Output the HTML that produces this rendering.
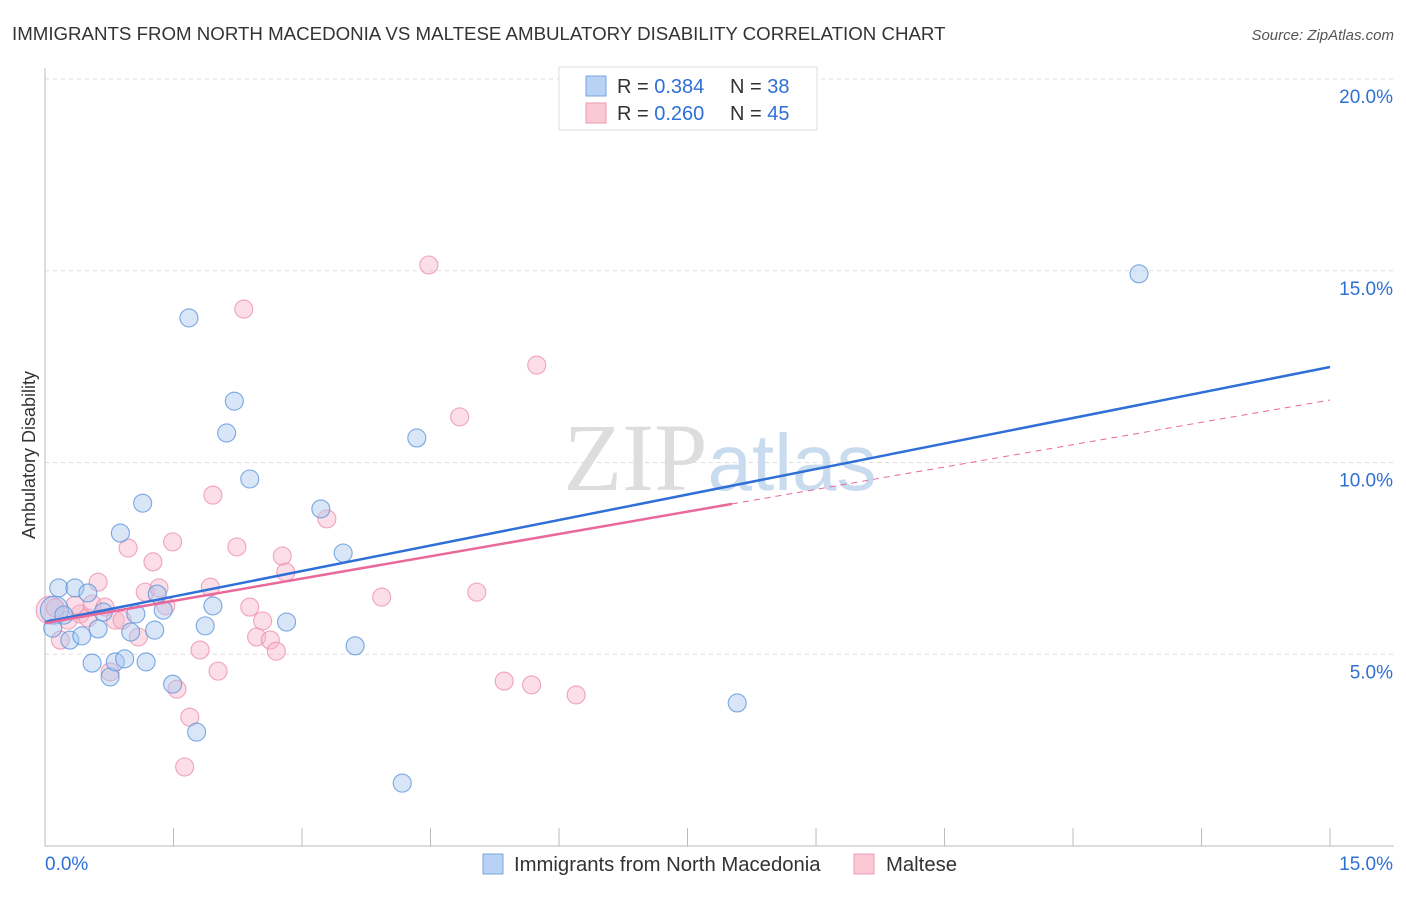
<!DOCTYPE html>
<html><head><meta charset="utf-8"><style>
body{margin:0;background:#fff;font-family:"Liberation Sans",sans-serif}
</style></head><body>
<svg width="1406" height="892" xmlns="http://www.w3.org/2000/svg" font-family="Liberation Sans, sans-serif">
<text x="12" y="40" font-size="18.7" fill="#333">IMMIGRANTS FROM NORTH MACEDONIA VS MALTESE AMBULATORY DISABILITY CORRELATION CHART</text>
<text x="1394" y="40" font-size="15" fill="#555" font-style="italic" text-anchor="end">Source: ZipAtlas.com</text>
<g id="grid"></g>
<text x="720" y="490" font-size="96" fill="#ddd" text-anchor="middle" font-family="Liberation Serif, serif">ZIP<tspan fill="#c9dbef" font-family="Liberation Sans, sans-serif" font-size="80">atlas</tspan></text>
<g id="points"></g>
<g id="lines"></g>
<text x="35" y="455" font-size="18" fill="#333" text-anchor="middle" transform="rotate(-90 35 455)">Ambulatory Disability</text>
<g>
<rect x="559" y="67" width="258" height="63" fill="#fff" stroke="#ddd"/>
<rect x="586" y="76" width="20" height="20" fill="#b7d2f5" stroke="#7aa6e0"/>
<rect x="586" y="103" width="20" height="20" fill="#fbc8d6" stroke="#ee9ab2"/>
<text x="617" y="93" font-size="20" fill="#333">R = <tspan fill="#2f6fd6">0.384</tspan></text>
<text x="730" y="93" font-size="20" fill="#333">N = <tspan fill="#2f6fd6">38</tspan></text>
<text x="617" y="120" font-size="20" fill="#333">R = <tspan fill="#2f6fd6">0.260</tspan></text>
<text x="730" y="120" font-size="20" fill="#333">N = <tspan fill="#2f6fd6">45</tspan></text>
</g>
<g>
<rect x="483" y="854" width="20" height="20" fill="#b7d2f5" stroke="#7aa6e0"/>
<text x="514" y="871" font-size="20.3" fill="#333">Immigrants from North Macedonia</text>
<rect x="854" y="854" width="20" height="20" fill="#fbc8d6" stroke="#ee9ab2"/>
<text x="886" y="871" font-size="20.3" fill="#333">Maltese</text>
</g>
</svg>
<script>
const xTicks=[0,1.5,3,4.5,6,7.5,9,10.5,12,13.5,15];
const yTicks=[5,10,15,20];
const yTickLabels=["5.0%","10.0%","15.0%","20.0%"];
const blueX=[0.11,0.16,0.35,0.50,0.22,0.09,0.29,0.43,0.62,0.68,0.55,0.76,0.82,0.93,0.88,1.14,1.06,1.00,1.18,1.28,1.31,1.38,1.49,1.77,1.68,1.87,1.96,2.12,2.21,2.39,2.82,3.22,3.48,3.62,4.17,4.34,8.08,12.77];
const blueY=[6.15,6.73,6.73,6.60,6.02,5.68,5.37,5.48,5.66,6.10,4.77,4.41,4.80,4.88,8.16,8.94,6.05,5.58,4.80,5.63,6.57,6.15,4.22,2.97,13.77,5.74,6.26,10.77,11.60,9.57,5.84,8.79,7.64,5.22,1.64,10.64,3.73,14.92];
const pinkX=[0.06,0.12,0.18,0.27,0.41,0.50,0.62,0.55,0.70,0.82,0.90,0.76,0.97,1.09,1.17,1.26,1.33,1.41,1.49,1.54,1.63,1.69,1.81,1.93,1.96,2.02,2.24,2.39,2.47,2.54,2.63,2.70,2.77,2.81,3.29,3.93,4.48,4.84,5.04,5.36,5.68,5.74,6.20,2.32,0.35];
const pinkY=[6.15,6.21,5.37,5.89,6.05,5.95,6.88,6.31,6.23,5.89,5.89,4.54,7.77,5.45,6.62,7.41,6.73,6.26,7.93,4.09,2.06,3.36,5.11,6.75,9.15,4.56,7.80,6.23,5.45,5.87,5.37,5.08,7.56,7.14,8.53,6.49,15.15,11.19,6.62,4.30,4.20,12.54,3.94,14.00,6.28];
const blueTrend=[[0,5.84],[15,12.49]];
const pinkTrend=[[0,5.81],[8.02,8.92],[15,11.63]];
const NS="http://www.w3.org/2000/svg";
const X=v=>45+v*85.67, Y=v=>846-v*38.35;
function mk(t,a,p){const e=document.createElementNS(NS,t);for(const k in a)e.setAttribute(k,a[k]);p.appendChild(e);return e;}
const grid=document.getElementById('grid');
yTicks.forEach((t,i)=>{
 const l=mk('line',{x1:45,x2:1394,y1:Y(t),y2:Y(t),stroke:'#ddd','stroke-dasharray':'4,4'},grid);
 
 
 const tx=mk('text',{x:1393,y:Y(t)+24,'font-size':19,fill:'#2f6fd6','text-anchor':'end'},grid);
 tx.textContent=yTickLabels[i];
 
 
});
mk('line',{x1:45,x2:45,y1:68,y2:846,stroke:'#bbb'},grid);
mk('line',{x1:45,x2:1394,y1:846,y2:846,stroke:'#bbb'},grid);
xTicks.forEach(t=>{const e=mk('line',{x1:X(t),x2:X(t),y1:828,y2:846,stroke:'#bbb'},grid);
 
 });
const xl=mk('text',{x:45,y:870,'font-size':19,fill:'#2f6fd6'},grid);xl.textContent='0.0%';


const xr=mk('text',{x:1393,y:870,'font-size':19,fill:'#2f6fd6','text-anchor':'end'},grid);xr.textContent='15.0%';


const pts=document.getElementById('points');
function dots(xs,ys,fill,stroke,name){xs.forEach((x,i)=>{
 const r=i<1?14:9;
 const c=mk('circle',{cx:X(x),cy:Y(ys[i]),r:r,fill:fill,'fill-opacity':0.45,stroke:stroke,'stroke-opacity':0.8,'stroke-width':1.1},pts);
 
 
});}
dots(pinkX,pinkY,'#f7b6c9','#ec8fac','maltese-point');
dots(blueX,blueY,'#a9c8f0','#5b93dc','macedonia-point');
const lines=document.getElementById('lines');
const bl=mk('line',{x1:X(blueTrend[0][0]),y1:Y(blueTrend[0][1]),x2:X(blueTrend[1][0]),y2:Y(blueTrend[1][1]),stroke:'#2f6fd6','stroke-width':2.5},lines);


const pl=mk('line',{x1:X(pinkTrend[0][0]),y1:Y(pinkTrend[0][1]),x2:X(pinkTrend[1][0]),y2:Y(pinkTrend[1][1]),stroke:'#e8699a','stroke-width':2.5},lines);


const pd=mk('line',{x1:X(pinkTrend[1][0]),y1:Y(pinkTrend[1][1]),x2:X(pinkTrend[2][0]),y2:Y(pinkTrend[2][1]),stroke:'#e8699a','stroke-width':1,'stroke-dasharray':'6,5'},lines);


</script>
</body></html>
